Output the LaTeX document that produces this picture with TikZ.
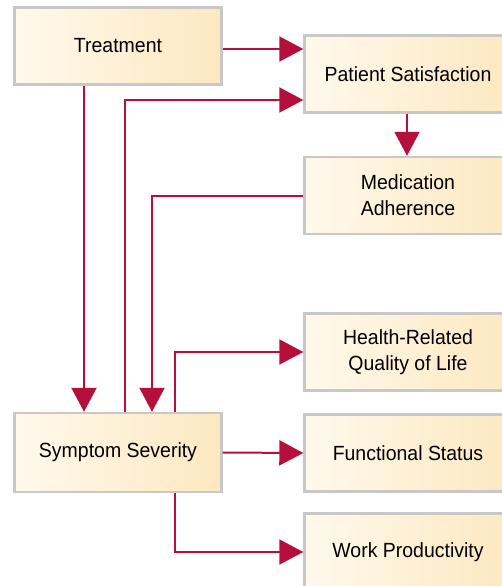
\documentclass[tikz,border=0pt]{standalone}
\usepackage{fontspec}
\setmainfont[FakeStretch=0.95]{Liberation Sans}
\usetikzlibrary{arrows.meta}
\definecolor{crim}{HTML}{B5103C}
\definecolor{bord}{HTML}{C8C8C8}
\definecolor{fillL}{HTML}{FFF9EC}
\definecolor{fillR}{HTML}{FDE8C0}
\tikzset{
  box/.style={draw=bord, line width=2.4pt, left color=fillL, right color=fillR,
    minimum width=207pt, minimum height=77pt, align=center, inner sep=0pt,
    font=\fontsize{20.5pt}{26pt}\selectfont, text=black},
  arr/.style={draw=crim, line width=2pt, -{Triangle[length=24pt,width=25pt]}}
}
\begin{document}
\begin{tikzpicture}[x=1pt,y=-1pt]
\useasboundingbox (0,0) rectangle (502,586);
\clip (0,0) rectangle (502,586);
\node[box] (T) at (118,46) {Treatment};
\node[box] (PS) at (408,74) {Patient Satisfaction};
\node[box] (MA) at (408,195.5) {Medication\\Adherence};
\node[box] (HQ) at (408,352) {Health-Related\\Quality of Life};
\node[box] (FS) at (408,453) {Functional Status};
\node[box] (WP) at (408,552) {Work Productivity};
\node[box, minimum height=79pt] (S) at (118,452.5) {Symptom Severity};
\coordinate (y49) at (0,49);
\coordinate (y100) at (0,100);
\coordinate (x84) at (84,0);
\coordinate (x125) at (125,0);
\coordinate (x152) at (152,0);
\coordinate (x175) at (175,0);
\coordinate (x407) at (407,0);
\draw[arr] (T.east |- y49) -- (PS.west |- y49);
\draw[arr] (T.south -| x84) -- (S.north -| x84);
\draw[arr] (S.north -| x125) |- (PS.west |- y100);
\draw[arr] (PS.south -| x407) -- (MA.north -| x407);
\draw[arr] (MA.west) -| (S.north -| x152);
\draw[arr] (S.north -| x175) |- (HQ.west);
\draw[arr] (S.east) -- (FS.west);
\draw[arr] (S.south -| x175) |- (WP.west);
\end{tikzpicture}
\end{document}
